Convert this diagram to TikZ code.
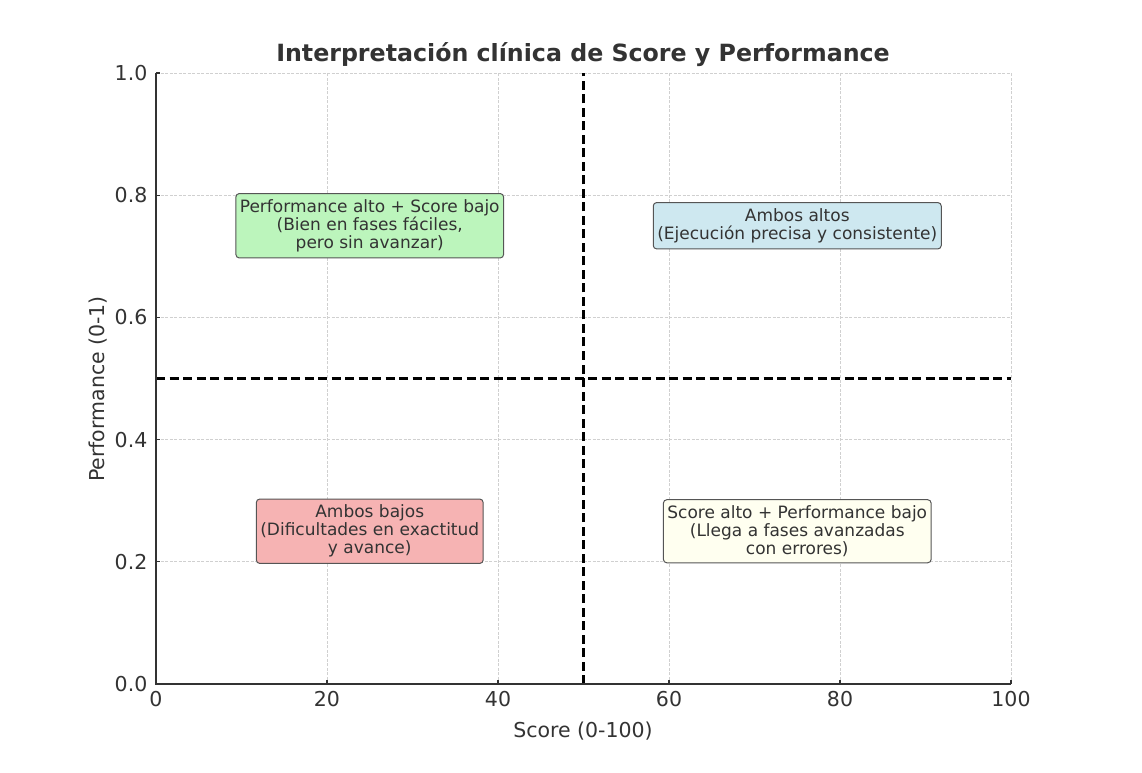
\documentclass[tikz,border=0pt]{standalone}
\usepackage{fontspec}
\setmainfont{DejaVu Sans}
\definecolor{txt}{HTML}{333333}
\definecolor{gridc}{HTML}{D0D0D0}
\definecolor{edgec}{HTML}{555555}
\definecolor{boxgreen}{HTML}{BCF5BC}
\definecolor{boxblue}{HTML}{CEE8F0}
\definecolor{boxred}{HTML}{F6B3B3}
\definecolor{boxyellow}{HTML}{FFFFF0}
\tikzset{
  gridline/.style={draw=gridc, line width=0.8pt, dash pattern=on 3pt off 1.5pt},
  quad/.style={draw=black, line width=2.3pt, dash pattern=on 9pt off 4.5pt},
  spine/.style={draw=txt, line width=1.4pt},
  tickmark/.style={draw=txt, line width=1.1pt},
  qbox/.style={draw=edgec, line width=1pt, rounded corners=3.5pt, text=txt, align=center,
    font=\fontsize{17}{18}\selectfont, inner xsep=4pt, inner ysep=6pt},
  ticklab/.style={text=txt, font=\fontsize{20.5}{24}\selectfont, inner sep=0pt},
}
\begin{document}
\begin{tikzpicture}[x=1pt,y=1pt]
\useasboundingbox (0,0) rectangle (1142,772);
\begin{scope}[shift={(156,88)}, x=8.55pt, y=611pt]
  \foreach \xv in {20,40,60,80,100} \draw[gridline] (\xv,0) -- (\xv,1);
  \foreach \yv in {0.2,0.4,0.6,0.8,1} \draw[gridline] (0,\yv) -- (100,\yv);
  \coordinate (vtop) at (50,1);
  \coordinate (vbot) at (50,0);
  \coordinate (hleft) at (0,0.5);
  \coordinate (hright) at (100,0.5);
  \draw[quad] (vbot) -- (vtop);
  \draw[quad] (hleft) -- (hright);
  \coordinate (origin) at (0,0);
  \coordinate (ytop) at (0,1);
  \coordinate (xright) at (100,0);
  % ticks (inward)
  \foreach \xv in {0,20,40,60,80,100} \draw[tickmark] (\xv,0) -- ++(0,4pt);
  \foreach \yv in {0,0.2,0.4,0.6,0.8,1} \draw[tickmark] (0,\yv) -- ++(4pt,0);
  \draw[spine] (ytop) -- (origin) -- (xright);
  % tick labels
  \foreach \xv in {0,20,40,60,80,100}
    \node[ticklab, anchor=base] (xl\xv) at (\xv,-0.0372) {\xv};
  \node[ticklab, anchor=base east] (yl0) at (-0.99,-0.0123) {0.0};
  \node[ticklab, anchor=base east] (yl2) at (-0.99,0.1877) {0.2};
  \node[ticklab, anchor=base east] (yl4) at (-0.99,0.3877) {0.4};
  \node[ticklab, anchor=base east] (yl6) at (-0.99,0.5877) {0.6};
  \node[ticklab, anchor=base east] (yl8) at (-0.99,0.7877) {0.8};
  \node[ticklab, anchor=base east] (yl10) at (-0.99,0.9877) {1.0};
  % boxes
  \node[qbox, fill=boxgreen] (pa) at (25,0.75) {Performance alto + Score bajo\\(Bien en fases fáciles,\\pero sin avanzar)};
  \node[qbox, fill=boxblue] (aa) at (75,0.75) {Ambos altos\\(Ejecución precisa y consistente)};
  \node[qbox, fill=boxred] (ab) at (25,0.25) {Ambos bajos\\(Dificultades en exactitud\\y avance)};
  \node[qbox, fill=boxyellow] (sa) at (75,0.25) {Score alto + Performance bajo\\(Llega a fases avanzadas\\con errores)};
\end{scope}
\node[ticklab, anchor=base] (xlabel) at (583,35) {Score (0-100)};
\node[ticklab, rotate=90, anchor=base] (ylabel) at (104,383) {Performance (0-1)};
\node[text=txt, inner sep=0pt, anchor=base, font=\fontsize{23.7}{28}\bfseries] (title) at (583,710) {Interpretación clínica de Score y Performance};
\end{tikzpicture}
\end{document}
